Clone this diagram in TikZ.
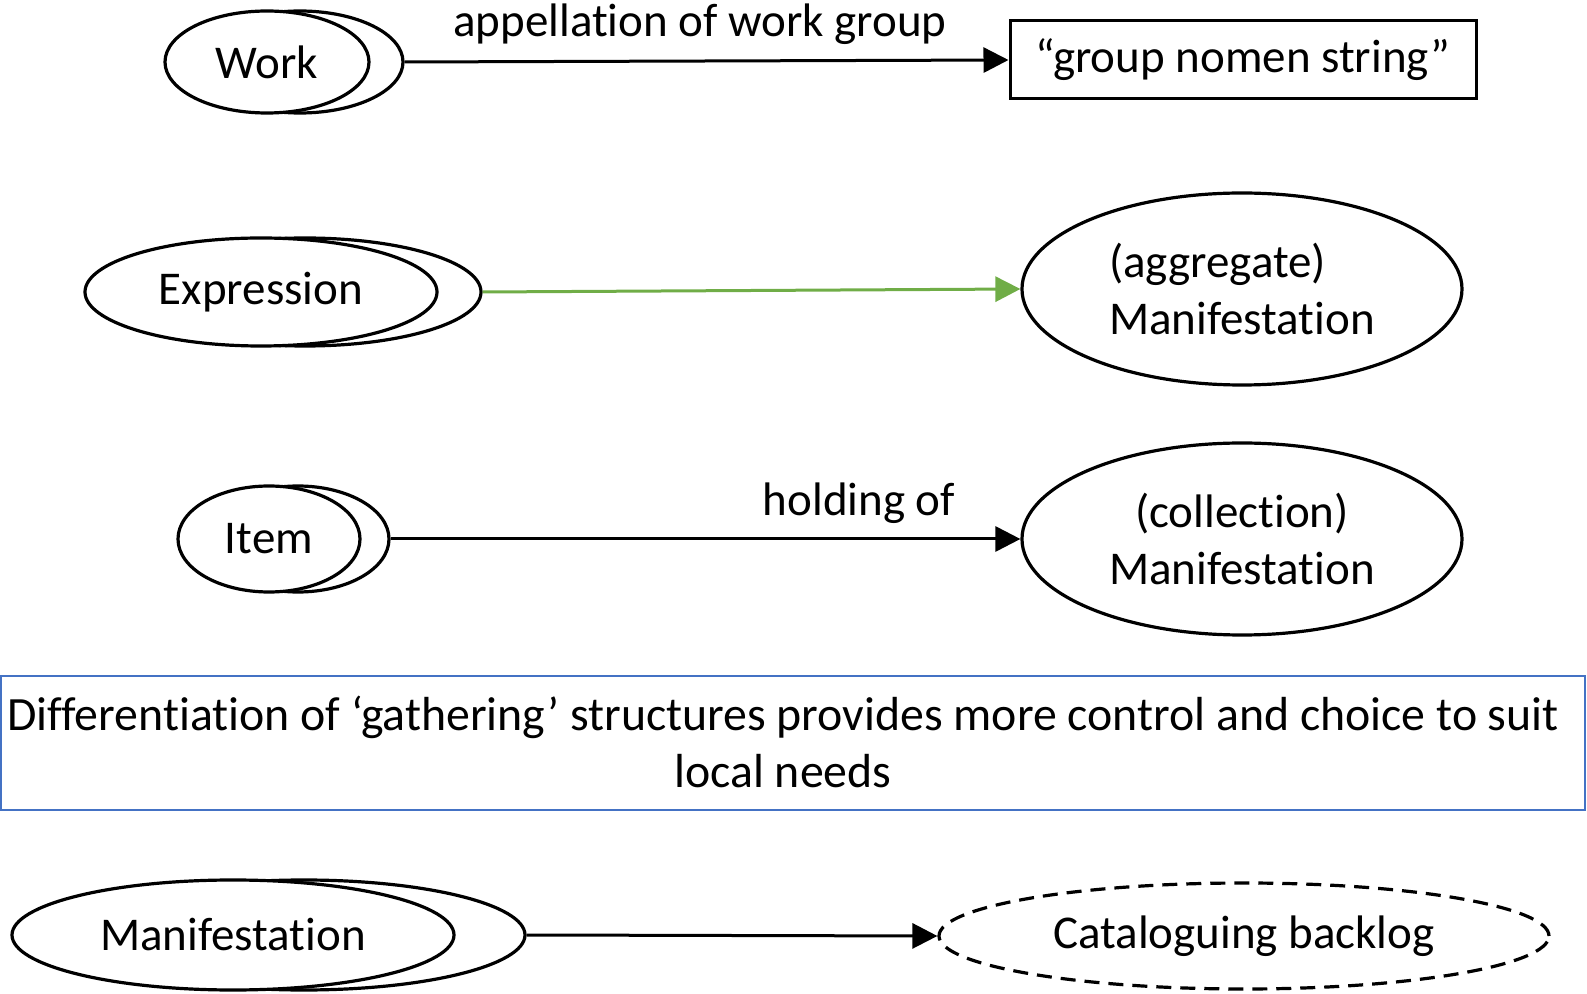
\documentclass[tikz,border=0pt]{standalone}
\usepackage{fontspec}
\setmainfont{Carlito}[Ligatures={NoCommon,NoRare},RawFeature={-liga;-clig;-calt;-dlig;-rlig}]
\usetikzlibrary{shapes.geometric,arrows.meta}
\definecolor{offgreen}{HTML}{70AD47}
\definecolor{offblue}{HTML}{4472C4}
\newcommand\sepTI{t\kern0pt i}
\begin{document}
\begin{tikzpicture}[x=0.5pt,y=-0.5pt,
  every node/.style={font=\fontsize{23.5}{28.5}\selectfont, inner sep=0pt},
  ent/.style={draw, ellipse, line width=1.6pt, fill=white},
  strbox/.style={draw, rectangle, line width=1.5pt, fill=white},
  notebox/.style={draw=offblue, rectangle, line width=1pt},
  arr/.style={line width=1.5pt, -{Triangle[length=12.5pt,width=12.5pt]}},
  garr/.style={line width=1.5pt, draw=offgreen, -{Triangle[length=12.5pt,width=12.5pt,fill=offgreen]}}]
\useasboundingbox (0,0) rectangle (1587,994);

% Work
\node[ent, minimum width=103pt, minimum height=51pt] (workB) at (300,62) {};
\node[ent, minimum width=102pt, minimum height=51pt] (work) at (267,62) {Work};
\node[strbox, minimum width=233pt, minimum height=39pt] (group) at (1243,60) {“group nomen string”};
\node (lab1) at (700,24) {appella\sepTI on of work group};
\draw[arr] (workB.east) -- (group.west);

% Expression
\node[ent, minimum width=176pt, minimum height=54pt] (exprB) at (305,292) {};
\node[ent, minimum width=176pt, minimum height=54pt] (expr) at (261,292) {Expression};
\node[ent, minimum width=220pt, minimum height=96pt, align=left] (agg) at (1242,289) {(aggregate)\\Manifesta\sepTI on};
\draw[garr] (exprB.east) -- (agg.west);

% Item
\node[ent, minimum width=91pt, minimum height=53pt] (itemB) at (298,539) {};
\node[ent, minimum width=91pt, minimum height=53pt] (item) at (269,539) {Item};
\node[ent, minimum width=220pt, minimum height=96pt, align=center] (col) at (1242,539) {(collec\sepTI on)\\Manifesta\sepTI on};
\node (lab2) at (859,503) {holding of};
\draw[arr] (itemB.east) -- (col.west);

% Note
\node[notebox, minimum width=792pt, minimum height=67pt] (note) at (793,743) {};
\node[align=center, font=\fontsize{23.9}{28.5}\selectfont] (notetext) at (783,742) {Differen\sepTI a\sepTI on of ‘gathering’ structures provides more control and choice to suit\\local needs};

% Manifestation
\node[ent, minimum width=221pt, minimum height=55pt] (manB) at (304,935) {};
\node[ent, minimum width=221pt, minimum height=55pt] (man) at (233,935) {Manifesta\sepTI on};
\node[ent, dash pattern=on 7.5pt off 4.5pt, minimum width=305pt, minimum height=53pt] (backlog) at (1244,936) {Cataloguing backlog};
\draw[arr] (manB.east) -- (backlog.west);
\end{tikzpicture}
\end{document}
